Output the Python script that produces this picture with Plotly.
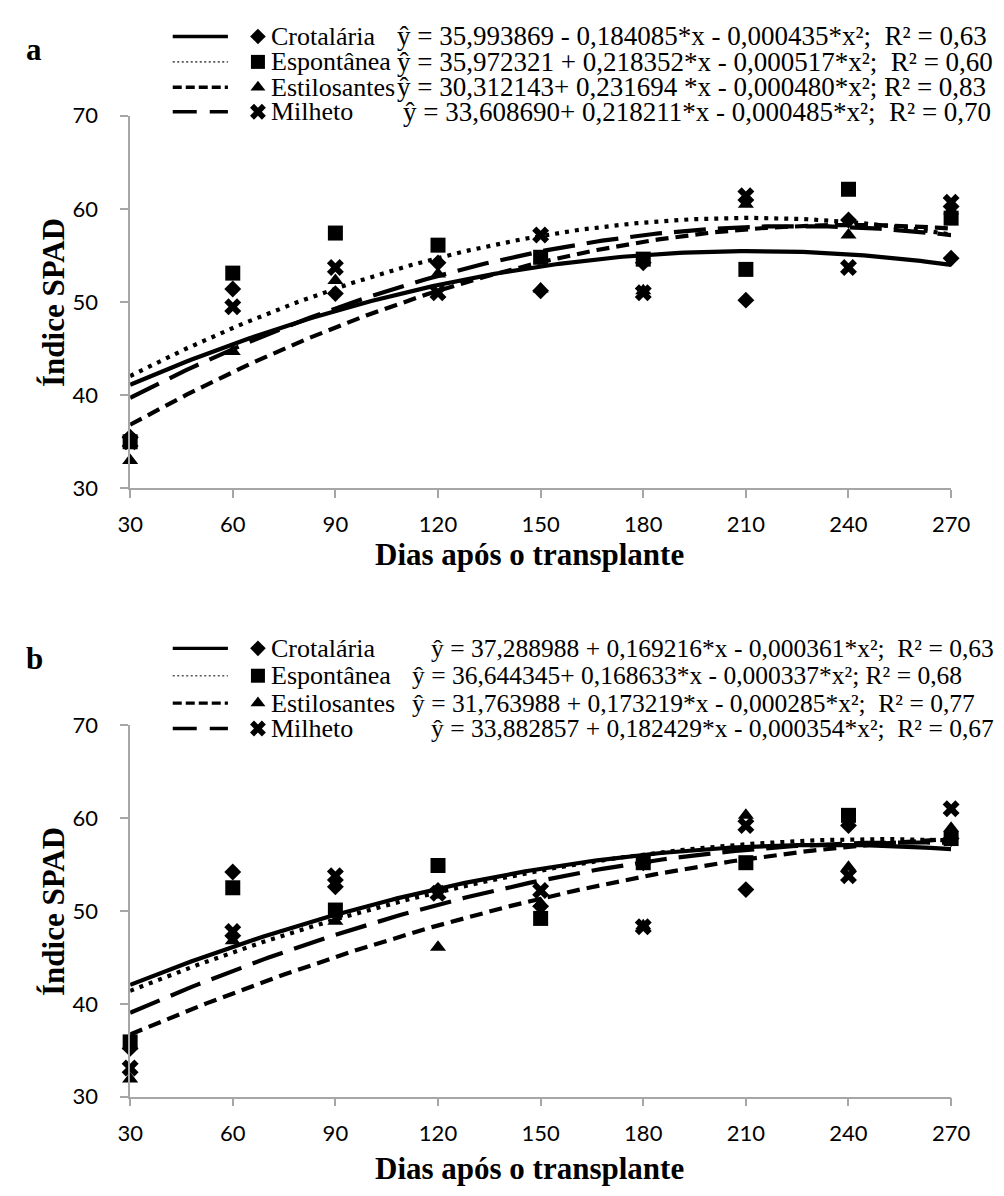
import numpy as np
import plotly.graph_objects as go

# ---------------- data ----------------
dias = [30, 60, 90, 120, 150, 180, 210, 240, 270]
series = ["Crotalária", "Espontânea", "Estilosantes", "Milheto"]

# panel a (observed SPAD values)
a_crot = [35.5, 51.4, 50.9, 54.2, 51.2, 54.2, 50.2, 58.8, 54.7]
a_espo = [35.0, 53.1, 57.4, 56.1, 54.8, 54.6, 53.5, 62.1, 59.0]
a_esti = [33.0, 44.7, 52.3, 53.0, 51.4, 51.2, 60.5, 57.2, 59.8]
a_milh = [35.0, 49.5, 53.7, 51.0, 57.2, 51.0, 61.4, 53.7, 60.7]

# panel b
b_crot = [35.2, 54.2, 52.6, 52.2, 50.5, 55.2, 52.3, 59.2, 57.8]
b_espo = [35.9, 52.5, 50.1, 54.9, 49.2, 55.2, 55.2, 60.3, 57.8]
b_esti = [31.9, 46.8, 48.9, 46.1, 50.8, 48.4, 60.3, 54.7, 58.9]
b_milh = [33.1, 47.8, 53.8, 51.9, 52.2, 48.3, 59.2, 53.8, 61.0]

# regression coefficients (b0, b1, b2)
a_b0 = [35.993869, 35.972321, 30.312143, 33.608690]
a_b1 = [0.184085, 0.218352, 0.231694, 0.218211]
a_b2 = [-0.000435, -0.000517, -0.000480, -0.000485]
b_b0 = [37.288988, 36.644345, 31.763988, 33.882857]
b_b1 = [0.169216, 0.168633, 0.173219, 0.182429]
b_b2 = [-0.000361, -0.000337, -0.000285, -0.000354]

NB = "\u00a0"
a_eq = [
    "ŷ = 35,993869 - 0,184085*x - 0,000435*x²;" + NB + NB + "R² = 0,63",
    "ŷ = 35,972321 + 0,218352*x - 0,000517*x²;" + NB + NB + "R² = 0,60",
    "ŷ = 30,312143+ 0,231694 *x - 0,000480*x²; R² = 0,83",
    "ŷ = 33,608690+ 0,218211*x - 0,000485*x²;" + NB + NB + "R² = 0,70",
]
b_eq = [
    "ŷ = 37,288988 + 0,169216*x - 0,000361*x²;" + NB + NB + "R² = 0,63",
    "ŷ = 36,644345+ 0,168633*x - 0,000337*x²; R² = 0,68",
    "ŷ = 31,763988 + 0,173219*x - 0,000285*x²;" + NB + NB + "R² = 0,77",
    "ŷ = 33,882857 + 0,182429*x - 0,000354*x²;" + NB + NB + "R² = 0,67",
]

x_ticks = [30, 60, 90, 120, 150, 180, 210, 240, 270]
y_ticks = [30, 40, 50, 60, 70]

# ---------------- styling ----------------
W, H = 1004, 1196
symbols = ["diamond", "square", "triangle-up", "x"]
msizes = [13, 15, 14, 15]
dashes = ["solid", "4px,6px", "13px,7px", "32px,12px"]
SERIF = "Liberation Serif, Times New Roman, serif"
SANS = "Lato, Calibri, Liberation Sans, sans-serif"
AX = "#a6a6a6"

def xdom(left, right):
    return [left / W, right / W]

def ydom(top, bottom):
    return [1 - bottom / H, 1 - top / H]

x_dom = xdom(121, 969)
a_dom = ydom(104, 485.3)
b_dom = ydom(727.7, 1107.7)

fig = go.Figure()

panels = [
    ("x", "y", [a_crot, a_espo, a_esti, a_milh], a_b0, a_b1, a_b2),
    ("x2", "y2", [b_crot, b_espo, b_esti, b_milh], b_b0, b_b1, b_b2),
]
xs = np.linspace(30, 270, 161)
for xa, ya, obs, c0, c1, c2 in panels:
    for i, name in enumerate(series):
        ys = c0[i] + c1[i] * xs + c2[i] * xs ** 2
        fig.add_trace(go.Scatter(x=xs, y=ys, mode="lines", xaxis=xa, yaxis=ya,
                                 line=dict(color="black", width=4.2, dash=dashes[i]),
                                 showlegend=False, hoverinfo="skip"))
    for i, name in enumerate(series):
        fig.add_trace(go.Scatter(x=dias, y=obs[i], mode="markers", xaxis=xa, yaxis=ya,
                                 name=name, cliponaxis=False,
                                 marker=dict(symbol=symbols[i], size=msizes[i], color="black",
                                             line=dict(width=0)),
                                 showlegend=False))

# ---------- legend blocks drawn on a full-page pixel overlay axis ----------
leg_rows = {"a": [23, 49, 75, 100], "b": [649, 677, 705, 731]}
eq_x = {"a": [395, 395, 395, 401], "b": [430, 410, 410, 430]}
eq_size = {"a": 27, "b": 25.5}
eqs = {"a": a_eq, "b": b_eq}
leg_widths = [3.4, 1.6, 3.4, 3.6]
leg_colors = ["black", "#555555", "black", "black"]
leg_dash = ["solid", "2px,2.5px", "9px,4px", "24px,13px"]
annotations = []
for key in ["a", "b"]:
    for i, name in enumerate(series):
        yrow = leg_rows[key][i]
        fig.add_trace(go.Scatter(x=[165, 222], y=[yrow, yrow], mode="lines", xaxis="x3", yaxis="y3",
                                 line=dict(color=leg_colors[i], width=leg_widths[i], dash=leg_dash[i]),
                                 showlegend=False, hoverinfo="skip"))
        fig.add_trace(go.Scatter(x=[253], y=[yrow], mode="markers", xaxis="x3", yaxis="y3",
                                 marker=dict(symbol=symbols[i], size=msizes[i] - 1, color="black"),
                                 showlegend=False, hoverinfo="skip", cliponaxis=False))
        annotations.append(dict(x=264, y=yrow, xref="x3", yref="y3", text=name,
                                showarrow=False, xanchor="left", yanchor="middle",
                                font=dict(family=SERIF, size=26, color="black")))
        annotations.append(dict(x=eq_x[key][i], y=yrow, xref="x3", yref="y3", text=eqs[key][i],
                                showarrow=False, xanchor="left", yanchor="middle",
                                font=dict(family=SERIF, size=eq_size[key], color="black")))

# panel letters and axis titles
for lab, yy in [("a", 36), ("b", 659)]:
    annotations.append(dict(x=22, y=yy, xref="x3", yref="y3", text="<b>%s</b>" % lab,
                            showarrow=False, font=dict(family=SERIF, size=31, color="black")))
for yy in [553, 1181]:
    annotations.append(dict(x=534, y=yy, xref="x3", yref="y3", text="<b>Dias após o transplante</b>",
                            showarrow=False, font=dict(family=SERIF, size=31, color="black")))
for yy in [295, 918]:
    annotations.append(dict(x=42, y=yy, xref="x3", yref="y3", text="<b>Índice SPAD</b>",
                            textangle=-90, showarrow=False,
                            font=dict(family=SERIF, size=31, color="black")))

xaxis_common = dict(range=[30, 270], tickvals=x_ticks, showgrid=False, zeroline=False,
                    showline=True, linecolor=AX, linewidth=1.5, ticks="outside", ticklen=8,
                    tickcolor=AX, tickwidth=1.5, tickfont=dict(family=SANS, size=22, color="black"),
                    ticklabelstandoff=8, domain=x_dom, fixedrange=True)
yaxis_common = dict(range=[30, 70], tickvals=y_ticks, showgrid=False, zeroline=False,
                    showline=True, linecolor=AX, linewidth=1.5, ticks="outside", ticklen=8,
                    tickcolor=AX, tickwidth=1.5, tickfont=dict(family=SANS, size=22, color="black"),
                    ticklabelstandoff=18, fixedrange=True)

fig.update_layout(
    width=W, height=H, margin=dict(l=0, r=0, t=0, b=0),
    paper_bgcolor="white", plot_bgcolor="rgba(0,0,0,0)", showlegend=False,
    xaxis=dict(xaxis_common, anchor="y"),
    yaxis=dict(yaxis_common, domain=a_dom, anchor="x"),
    xaxis2=dict(xaxis_common, anchor="y2"),
    yaxis2=dict(yaxis_common, domain=b_dom, anchor="x2"),
    xaxis3=dict(range=[0, W], domain=[0, 1], visible=False, anchor="y3", fixedrange=True),
    yaxis3=dict(range=[H, 0], domain=[0, 1], visible=False, anchor="x3", fixedrange=True),
    annotations=annotations,
)

fig.write_html("out.html", config={"displayModeBar": False},
               post_script="document.body.style.margin='0';document.documentElement.style.overflow='hidden';")
